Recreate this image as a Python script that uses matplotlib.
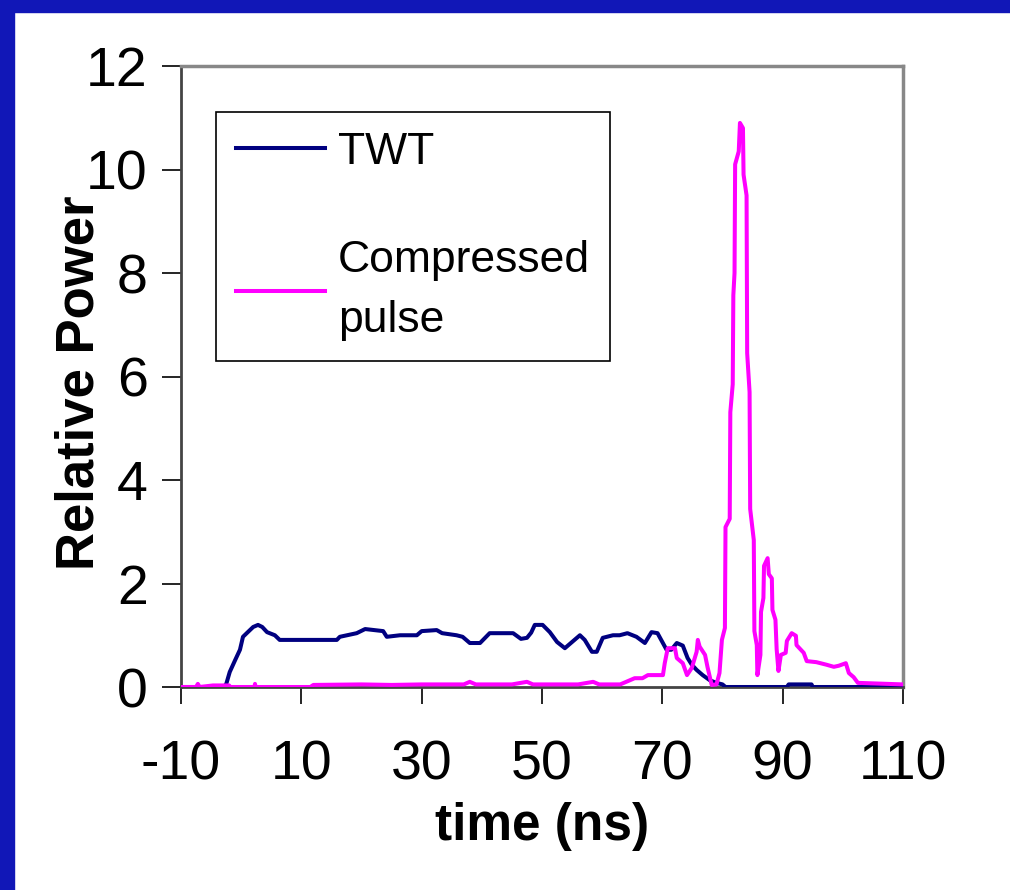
import numpy as np
import matplotlib
matplotlib.use('Agg')
import matplotlib.pyplot as plt
from matplotlib.patches import Rectangle

plt.rcParams['font.family'] = ['Liberation Sans', 'DejaVu Sans']
plt.rcParams['axes.unicode_minus'] = False

# TWT output
twt_t = [-10, -3, -2.5, -1.9, -1.0, -0.2, 0.3, 1.1, 2.0, 2.8, 3.5, 4.3, 5.6, 6.4,
         15.9, 16.4, 19.2, 20.6, 23.6, 24.2, 26.4, 29.2, 30, 32.5, 33.4, 35.8, 36.8,
         38, 39.7, 41.3, 45.2, 46.5, 47.5, 48.2, 48.8, 50.1, 51.3, 52.5, 53.8, 55,
         56.3, 57.1, 58.3, 59.1, 60.1, 61.8, 62.9, 64.2, 65.7, 67.1, 68.2, 69.2, 70.7,
         71.5, 72.4, 73.4, 74.2, 74.9, 75.7, 76.7, 77.9, 79, 80, 80.5, 90.7, 91,
         94.8, 95, 110]
twt_p = [0, 0, 0.05, 0.29, 0.52, 0.72, 0.97, 1.06, 1.16, 1.2, 1.16, 1.06, 1.0, 0.91,
         0.91, 0.97, 1.04, 1.12, 1.08, 0.97, 1.0, 1.0, 1.08, 1.1, 1.04, 1.0, 0.97,
         0.85, 0.85, 1.04, 1.04, 0.93, 0.95, 1.05, 1.2, 1.2, 1.06, 0.87, 0.75, 0.87,
         1.0, 0.91, 0.68, 0.68, 0.95, 1.0, 1.0, 1.04, 0.97, 0.85, 1.06, 1.04, 0.72,
         0.72, 0.85, 0.8, 0.56, 0.43, 0.33, 0.23, 0.13, 0.08, 0.05, 0, 0, 0.05,
         0.05, 0, 0]

# compressed pulse
pulse_t = [-10, -7.5, -7.2, -6.9, -4.7, -2, -1.8, 2.2, 2.3, 2.4, 11.5, 12, 20, 25,
           30, 37, 38, 39, 45, 47.5, 48.5, 56, 58.5, 59.5, 63, 64.6, 65.4, 66.7,
           67.6, 69, 70.1, 70.4, 70.9, 72.1, 72.4, 73.4, 74.1, 74.9, 75.7, 75.9,
           76.2, 77.1, 77.5, 78.2, 79, 79.5, 79.9, 80.4, 80.5, 81.2, 81.3, 81.7,
           81.8, 82.0, 82.1, 82.7, 82.9, 83.4, 83.5, 84.0, 84.1, 84.5, 84.6, 85.2,
           85.3, 85.7, 85.8, 86.3, 86.4, 86.8, 86.9, 87.5, 87.7, 88.2, 88.3, 88.8,
           89.0, 89.3, 89.7, 90.5, 90.7, 91.5, 92.2, 92.3, 93.5, 94, 95.6, 97.3,
           98.5, 99.3, 100.5, 101, 101.8, 102.5, 110]
pulse_p = [0, 0, 0.06, 0, 0.03, 0.03, 0, 0, 0.06, 0, 0, 0.04, 0.05, 0.04,
           0.05, 0.05, 0.1, 0.05, 0.05, 0.1, 0.05, 0.05, 0.1, 0.05, 0.05, 0.13, 0.17, 0.17,
           0.23, 0.23, 0.23, 0.46, 0.75, 0.75, 0.56, 0.46, 0.23, 0.37, 0.68, 0.91,
           0.78, 0.62, 0.39, 0.04, 0.05, 0.27, 0.91, 1.14, 3.09, 3.25, 5.31, 5.85,
           7.57, 8.0, 10.1, 10.35, 10.9, 10.8, 9.9, 9.5, 6.45, 5.7, 3.44, 2.84,
           1.08, 0.81, 0.23, 0.62, 1.45, 1.72, 2.34, 2.49, 2.18, 2.1, 1.49, 1.3,
           0.73, 0.31, 0.62, 0.66, 0.89, 1.04, 0.99, 0.81, 0.66, 0.5, 0.48, 0.43,
           0.39, 0.41, 0.46, 0.27, 0.19, 0.08, 0.05]

x_ticks = [-10, 10, 30, 50, 70, 90, 110]
y_ticks = [0, 2, 4, 6, 8, 10, 12]

fig = plt.figure(figsize=(10.1, 8.9), dpi=100)
ax = fig.add_axes([181 / 1010, 1 - 687 / 890, 722 / 1010, 621 / 890])

# blue slide frame on the left and top
fig.patches.append(Rectangle((0, 0), 14 / 1010, 1, transform=fig.transFigure,
                             color='#1117b7', zorder=0))
fig.patches.append(Rectangle((0, 1 - 12 / 890), 1, 12 / 890, transform=fig.transFigure,
                             color='#1117b7', zorder=0))

ax.plot(twt_t, twt_p, color='#000080', lw=2.9, label='TWT', zorder=3)
ax.plot(pulse_t, pulse_p, color='#ff00ff', lw=2.9, label='Compressed\npulse', zorder=4)

ax.set_xlim(-10, 110)
ax.set_ylim(0, 12)
ax.set_xticks(x_ticks)
ax.set_yticks(y_ticks)
ax.tick_params(axis='x', direction='out', length=12, width=1.2, pad=26, labelsize=40)
ax.tick_params(axis='y', direction='out', length=14, width=1.2, pad=10, labelsize=40)

for side in ['top', 'right']:
    ax.spines[side].set_color('#888888')
    ax.spines[side].set_linewidth(2.5)
for side in ['left', 'bottom']:
    ax.spines[side].set_color('#444444')
    ax.spines[side].set_linewidth(2)

ax.set_xlabel('time (ns)', fontsize=37, fontweight='bold')
ax.set_ylabel('Relative Power', fontsize=38, fontweight='bold')
ax.xaxis.set_label_coords(0.5, -0.185)
ax.yaxis.set_label_coords(-0.106, 0.49)

leg = ax.legend(loc='upper left', bbox_to_anchor=(0.048, 0.926), fontsize=32,
                frameon=True, fancybox=False, framealpha=1, edgecolor='black',
                handlelength=2.0, handletextpad=0.3, labelspacing=1.5,
                borderpad=0.45, borderaxespad=0)
leg.get_frame().set_linewidth(1.2)
for txt in leg.get_texts():
    txt.set_linespacing(1.6)

fig.savefig('out.png', dpi=100)
